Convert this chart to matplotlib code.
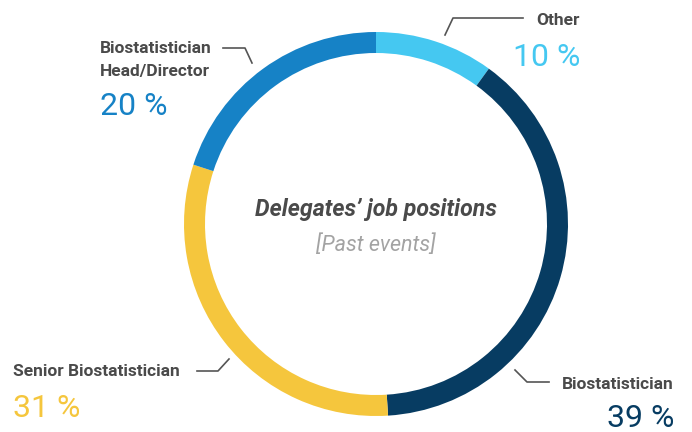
import matplotlib
matplotlib.use("Agg")
import matplotlib.pyplot as plt

labels = ['Other', 'Biostatistician', 'Senior Biostatistician', 'Biostatistician\nHead/Director']
shares = [10, 39, 31, 20]
colors = ['#45c8f1', '#073c62', '#f5c63d', '#1682c6']
pct_labels = ['10 %', '39 %', '31 %', '20 %']

H = 432
grey = '#4a4a4a'
font = ['Roboto', 'DejaVu Sans']

fig = plt.figure(figsize=(6.92, 4.32), dpi=100)
ax = fig.add_axes([0, 0, 1, 1])

ax.pie(shares, colors=colors, startangle=90, counterclock=False,
       center=(376, H - 224), radius=192,
       wedgeprops=dict(width=21, linewidth=0))

ax.set_xlim(0, 692)
ax.set_ylim(0, H)
ax.set_aspect('equal')
ax.axis('off')

# leader lines (pixel positions from top)
leaders = [
    [(445, 35), (453, 18), (523, 18)],
    [(515, 370), (527, 382), (549, 382)],
    [(197, 371), (218, 371), (229, 359)],
    [(223, 48), (245, 48), (252, 63)],
]
for pts in leaders:
    ax.plot([p[0] for p in pts], [H - p[1] for p in pts], color='#555555', lw=1.2)

lab_kw = dict(va='baseline', fontsize=12.5, fontweight='bold', color=grey, family=font)
pct_kw = dict(va='baseline', fontsize=23, fontweight='normal', family=font)

# Other
ax.text(580, H - 25, labels[0], ha='right', **lab_kw)
ax.text(580, H - 66, pct_labels[0], ha='right', color=colors[0], **pct_kw)

# Biostatistician
ax.text(674, H - 389, labels[1], ha='right', **lab_kw)
ax.text(674, H - 427, pct_labels[1], ha='right', color=colors[1], **pct_kw)

# Senior Biostatistician
ax.text(13, H - 376, labels[2], ha='left', **lab_kw)
ax.text(13, H - 417, pct_labels[2], ha='left', color=colors[2], **pct_kw)

# Head/Director (two lines)
line1, line2 = labels[3].split('\n')
ax.text(100, H - 53, line1, ha='left', **lab_kw)
ax.text(100, H - 76, line2, ha='left', **lab_kw)
ax.text(100, H - 115, pct_labels[3], ha='left', color=colors[3], **pct_kw)

# centre title
ax.text(376, H - 216, 'Delegates\u2019 job positions', ha='center', va='baseline',
        fontsize=16.7, fontweight='bold', fontstyle='italic', color=grey, family=font)
ax.text(376, H - 251, '[Past events]', ha='center', va='baseline',
        fontsize=15.5, fontstyle='italic', color='#a3a3a3', family=font)

fig.savefig('out.png', dpi=100)
